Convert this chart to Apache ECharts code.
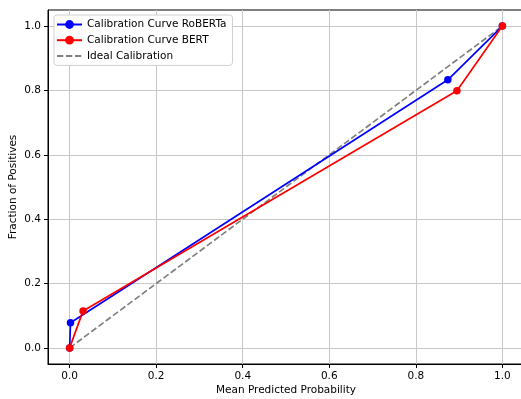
<!DOCTYPE html>
<html><head><meta charset="utf-8">
<script src="https://cdn.jsdelivr.net/npm/echarts@6/dist/echarts.min.js"></script>
<style>html,body{margin:0;padding:0;background:#fff;overflow:hidden}#c{width:525px;height:399px}</style>
</head><body><div id="c"></div>
<script>
const robertaX = [0.0, 0.002, 0.874, 1.0];
const robertaY = [0.0, 0.078, 0.833, 1.0];
const bertX = [0.0, 0.031, 0.895, 1.0];
const bertY = [0.0, 0.115, 0.799, 1.0];
const idealX = [0.0, 1.0];
const idealY = [0.0, 1.0];
const tickValues = [0.0, 0.2, 0.4, 0.6, 0.8, 1.0];

const zip = (xs, ys) => xs.map((x, i) => [x, ys[i]]);
const font = 'DejaVu Sans';
const fs = 10.5;
const axisCommon = {
  type: 'value', min: -0.05, max: 1.05,
  axisLine: { show: true, onZero: false, lineStyle: { color: '#000', width: 1 } },
  axisTick: { show: true, length: 4, lineStyle: { color: '#000' }, customValues: tickValues },
  axisLabel: { color: '#000', fontFamily: font, fontSize: fs, margin: 7, customValues: tickValues, formatter: v => v.toFixed(1) },
  splitLine: { show: true, lineStyle: { color: '#c8c8c8', width: 1 } },
  nameLocation: 'middle',
  nameMoveOverlap: false,
  nameTextStyle: { color: '#000', fontFamily: font, fontSize: fs }
};
const chart = echarts.init(document.getElementById('c'));
chart.setOption({
  animation: false,
  grid: { left: 48, right: 1, top: 10, bottom: 35, outerBoundsMode: 'none', containLabel: false, show: true, borderColor: '#000', borderWidth: 1 },
  xAxis: Object.assign({}, axisCommon, { name: 'Mean Predicted Probability', nameGap: 21 }),
  yAxis: Object.assign({}, axisCommon, { name: 'Fraction of Positives', nameGap: 29 }),
  legend: {
    left: 54, top: 15, orient: 'vertical', itemGap: 4.7, itemWidth: 25, itemHeight: 11,
    backgroundColor: '#fff', borderColor: '#d0d0d0', borderWidth: 1, borderRadius: 3,
    padding: [4, 6, 4, 2],
    textStyle: { color: '#000', fontFamily: font, fontSize: fs },
    data: [
      { name: 'Calibration Curve RoBERTa' },
      { name: 'Calibration Curve BERT' },
      { name: 'Ideal Calibration', itemStyle: { opacity: 0 } }
    ]
  },
  series: [
    { name: 'Calibration Curve RoBERTa', type: 'line', data: zip(robertaX, robertaY), color: '#0000ff',
      symbol: 'circle', symbolSize: 7.5, lineStyle: { width: 1.7 }, itemStyle: { color: '#0000ff' }, z: 3 },
    { name: 'Calibration Curve BERT', type: 'line', data: zip(bertX, bertY), color: '#ff0000',
      symbol: 'circle', symbolSize: 7.5, lineStyle: { width: 1.7 }, itemStyle: { color: '#ff0000' }, z: 4 },
    { name: 'Ideal Calibration', type: 'line', data: zip(idealX, idealY), color: '#808080',
      symbol: 'none', lineStyle: { width: 1.7, type: [6.3, 2.7] }, itemStyle: { color: '#808080' }, z: 2 }
  ]
});
</script></body></html>
